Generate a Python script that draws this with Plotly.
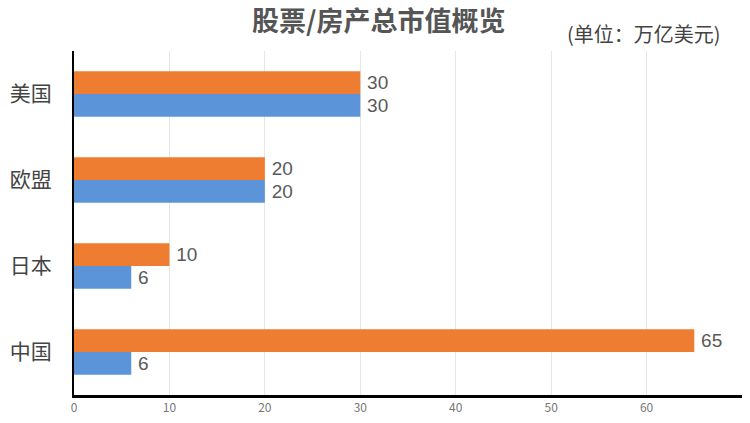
import plotly.graph_objects as go

categories = ["中国", "日本", "欧盟", "美国"]
stock_values = [6, 6, 20, 30]       # blue
property_values = [65, 10, 20, 30]  # orange
x_ticks = [0, 10, 20, 30, 40, 50, 60]

FONT = "Noto Sans CJK SC"
NUM_FONT = "Liberation Sans"

def labels(vals):
    return ["\u2009" + str(v) for v in vals]

fig = go.Figure()
fig.add_trace(go.Bar(
    y=categories, x=stock_values, orientation="h", name="股票",
    marker=dict(color="#5B94D9", line=dict(width=0)),
    text=labels(stock_values), textposition="outside", constraintext="none",
    textfont=dict(size=19, color="#5a5a5a", family=NUM_FONT), cliponaxis=False,
))
fig.add_trace(go.Bar(
    y=categories, x=property_values, orientation="h", name="房产",
    marker=dict(color="#EE7D32", line=dict(width=0)),
    text=labels(property_values), textposition="outside", constraintext="none",
    textfont=dict(size=19, color="#5a5a5a", family=NUM_FONT), cliponaxis=False,
))

fig.update_layout(
    width=750, height=423,
    margin=dict(l=74, r=8, t=51, b=24),
    barmode="group", bargap=0.47, bargroupgap=0,
    showlegend=False,
    plot_bgcolor="white", paper_bgcolor="white",
    font=dict(family=FONT),
    title=dict(text="<b>股票/房产总市值概览</b>", x=0.505, xanchor="center", y=0.948, yanchor="middle",
               font=dict(size=27, color="#555555", family=FONT)),
    annotations=[dict(text="(单位：万亿美元)", xref="paper", yref="paper", x=0.972, y=1.05,
                      xanchor="right", yanchor="middle", showarrow=False,
                      font=dict(size=20, color="#444444", family=FONT))],
)
fig.update_xaxes(range=[0, 70], tickvals=x_ticks, showgrid=True, gridcolor="#e6e6e6", gridwidth=1,
                 zeroline=False, showline=True, linecolor="black", linewidth=3,
                 tickfont=dict(size=12, color="#777777"), ticks="", fixedrange=True)
fig.update_yaxes(showgrid=False, showline=True, linecolor="black", linewidth=2,
                 tickfont=dict(size=21, color="#444444", family=FONT), ticks="",
                 ticklabelstandoff=16)

fig.write_html("out.html")
